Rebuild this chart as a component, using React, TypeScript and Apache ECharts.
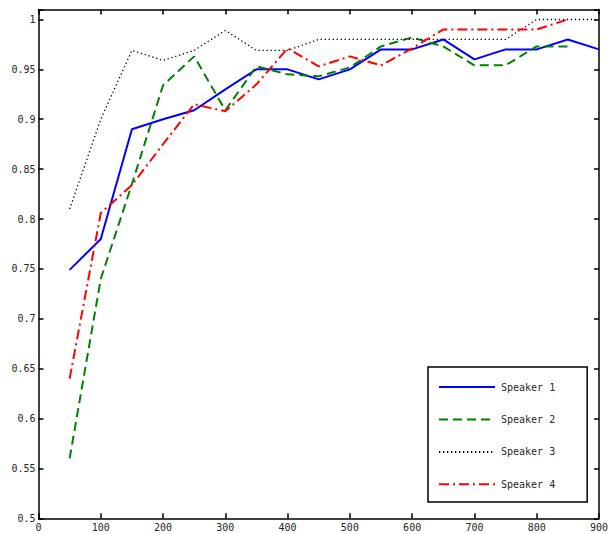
import React, { useEffect, useRef } from "react";
import * as echarts from "echarts";

const xValues = [50, 100, 150, 200, 250, 300, 350, 400, 450, 500, 550, 600, 650, 700, 750, 800, 850, 900];
const speaker1 = [0.749, 0.78, 0.89, 0.9, 0.909, 0.93, 0.95, 0.95, 0.94, 0.95, 0.97, 0.97, 0.98, 0.96, 0.97, 0.97, 0.98, 0.97];
const speaker2 = [0.56, 0.74, 0.835, 0.934, 0.963, 0.909, 0.953, 0.945, 0.943, 0.952, 0.973, 0.982, 0.973, 0.954, 0.954, 0.973, 0.973];
const speaker3 = [0.81, 0.9, 0.969, 0.959, 0.969, 0.989, 0.969, 0.969, 0.98, 0.98, 0.98, 0.98, 0.98, 0.98, 0.98, 1.0, 1.0, 1.0];
const speaker4 = [0.64, 0.806, 0.834, 0.875, 0.915, 0.908, 0.935, 0.971, 0.953, 0.963, 0.954, 0.971, 0.99, 0.99, 0.99, 0.99, 1.0];
const seriesNames = ["Speaker 1", "Speaker 2", "Speaker 3", "Speaker 4"];

const pairs = (vals: number[]) => vals.map((v, i) => [xValues[i], v]);

const FONT = "DejaVu Sans Mono";

export default function App() {
  const ref = useRef<HTMLDivElement>(null);
  useEffect(() => {
    if (!ref.current) return;
    const chart = echarts.init(ref.current, null, { renderer: "svg" });
    const axisCommon = {
      axisLine: { show: true, onZero: false, lineStyle: { color: "#000", width: 1.5 } },
      axisTick: { show: true, inside: true, length: 5, lineStyle: { color: "#000", width: 1.5 } },
      splitLine: { show: false },
    };
    chart.setOption({
      animation: false,
      backgroundColor: "#fff",
      grid: { left: 38.5, right: 8.5, top: 9.5, bottom: 15.7, containLabel: false },
      xAxis: [
        {
          type: "value", min: 0, max: 900, interval: 100, position: "bottom",
          ...axisCommon,
          axisLabel: { show: true, margin: 4, color: "#262626", fontFamily: FONT, fontSize: 10 },
        },
        {
          type: "value", min: 0, max: 900, interval: 100, position: "top",
          ...axisCommon,
          axisLabel: { show: false },
        },
      ],
      yAxis: [
        {
          type: "value", min: 0.5, max: 1.01, interval: 0.05, position: "left",
          ...axisCommon,
          axisLabel: {
            show: true, margin: 3, color: "#262626", fontFamily: FONT, fontSize: 10,
            formatter: (v: number) => (v > 1.005 ? "" : String(+v.toFixed(2))),
          },
        },
        {
          type: "value", min: 0.5, max: 1.01, interval: 0.05, position: "right",
          ...axisCommon,
          axisLabel: { show: false },
        },
      ],
      legend: {
        data: seriesNames,
        orient: "vertical",
        left: 428,
        top: 367,
        padding: [14.5, 32, 12, 10],
        itemGap: 21.2,
        itemWidth: 56,
        itemHeight: 14,
        borderColor: "#000",
        borderWidth: 1.5,
        backgroundColor: "#fff",
        itemStyle: { color: "transparent", borderColor: "transparent", borderWidth: 0 },
        textStyle: { fontFamily: FONT, fontSize: 10, color: "#262626", padding: [0, 0, 0, 1] },
        selectedMode: false,
      },
      series: [
        {
          name: seriesNames[0], type: "line", data: pairs(speaker1), symbol: "none", showSymbol: false,
          lineStyle: { color: "#0000ff", width: 2, type: "solid" }, itemStyle: { color: "#0000ff" },
        },
        {
          name: seriesNames[1], type: "line", data: pairs(speaker2), symbol: "none", showSymbol: false,
          lineStyle: { color: "#008000", width: 2, type: [9, 5] }, itemStyle: { color: "#008000" },
        },
        {
          name: seriesNames[2], type: "line", data: pairs(speaker3), symbol: "none", showSymbol: false,
          lineStyle: { color: "#000000", width: 1.3, type: [1.3, 2.7] }, itemStyle: { color: "#000000" },
        },
        {
          name: seriesNames[3], type: "line", data: pairs(speaker4), symbol: "none", showSymbol: false,
          lineStyle: { color: "#ff0000", width: 2, type: [10, 4, 2, 4] }, itemStyle: { color: "#ff0000" },
        },
      ],
    });
    return () => chart.dispose();
  }, []);
  return (
    <div
      ref={ref}
      style={{ position: "absolute", left: 0, top: 0, width: 611, height: 534, background: "#fff" }}
    />
  );
}
